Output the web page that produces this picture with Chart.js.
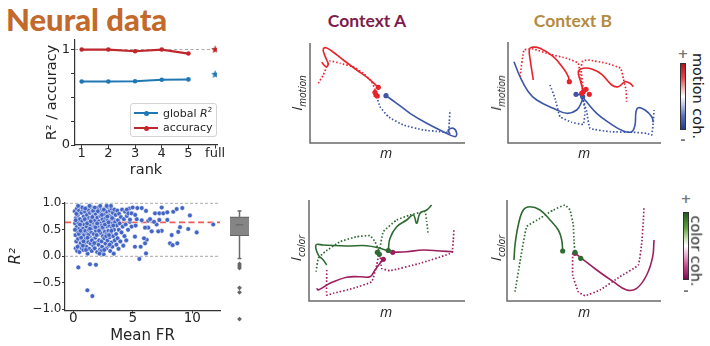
<!DOCTYPE html>
<html>
<head>
<meta charset="utf-8">
<script src="https://cdn.jsdelivr.net/npm/chart.js@4.4.0/dist/chart.umd.min.js"></script>
<style>
html,body{margin:0;padding:0;background:#fff;}
body{width:710px;height:346px;position:relative;overflow:hidden;font-family:"DejaVu Sans",sans-serif;color:#262626;}
canvas{position:absolute;}
.t{position:absolute;white-space:nowrap;line-height:1;}
.ctr{transform:translate(-50%,-50%);}
.rot{transform:translate(-50%,-50%) rotate(-90deg);}
.rot90{transform:translate(-50%,-50%) rotate(90deg);}
.cbar{position:absolute;border:1px solid #333;box-sizing:border-box;}
.lab{font-family:"Open Sans",sans-serif;font-style:italic;color:#222;}
.pm{font:700 13px "DejaVu Sans";color:#777;}
</style>
</head>
<body>
<div class="t" style="left:6px;top:0px;font:900 31px Lato;color:#c2692b;">Neural data</div>
<div class="t ctr" style="left:367px;top:20px;font:700 17.5px Lato;color:#7e1d4e;">Context A</div>
<div class="t ctr" style="left:573px;top:20px;font:700 17.5px Lato;color:#b58b42;">Context B</div>

<canvas id="rank" width="205" height="160" style="left:20px;top:30px"></canvas>
<canvas id="fr" width="225" height="160" style="left:5px;top:190px"></canvas>
<canvas id="box" width="27" height="128" style="left:226px;top:202px"></canvas>
<canvas id="tA"></canvas><canvas id="tB"></canvas><canvas id="bA"></canvas><canvas id="bB"></canvas>

<!-- legend of rank panel -->
<div style="position:absolute;left:130px;top:103px;width:87px;height:34px;border:1px solid #d4d4d4;border-radius:3px;background:rgba(255,255,255,0.9);box-sizing:border-box;"></div>
<div style="position:absolute;left:134px;top:112px;width:24px;height:2px;background:#1f77b4;"></div>
<div style="position:absolute;left:143.5px;top:110.5px;width:5px;height:5px;border-radius:50%;background:#1f77b4;"></div>
<div style="position:absolute;left:134px;top:127px;width:24px;height:2px;background:#c0272d;"></div>
<div style="position:absolute;left:143.5px;top:125.5px;width:5px;height:5px;border-radius:50%;background:#c0272d;"></div>
<div class="t" style="left:163px;top:107px;font-size:11px;">global <i>R</i><sup style="font-size:7px;">2</sup></div>
<div class="t" style="left:163px;top:122px;font-size:11px;">accuracy</div>

<!-- trajectory axis labels -->
<div class="t ctr lab" style="left:386px;top:153px;font-size:14px;">m</div>
<div class="t ctr lab" style="left:584px;top:153px;font-size:14px;">m</div>
<div class="t ctr lab" style="left:386px;top:312px;font-size:14px;">m</div>
<div class="t ctr lab" style="left:584px;top:312px;font-size:14px;">m</div>
<div class="t rot lab" style="left:298px;top:93px;font-size:15px;">I<sub style="font-size:10px;">motion</sub></div>
<div class="t rot lab" style="left:497px;top:93px;font-size:15px;">I<sub style="font-size:10px;">motion</sub></div>
<div class="t rot lab" style="left:297px;top:248px;font-size:15px;">I<sub style="font-size:10px;">color</sub></div>
<div class="t rot lab" style="left:497px;top:248px;font-size:15px;">I<sub style="font-size:10px;">color</sub></div>

<!-- colour bars -->
<div class="cbar" style="left:680px;top:63px;width:6px;height:67px;background:linear-gradient(to bottom,#b5121b 0%,#ea4a4a 22%,#f6c2c2 40%,#ffffff 50%,#c3c9ea 62%,#5a6fbd 80%,#233a8f 100%);"></div>
<div class="t ctr pm" style="left:683px;top:53px;">+</div>
<div class="t ctr pm" style="left:683px;top:139px;">-</div>
<div class="t rot90" style="left:698px;top:96px;font-size:14.5px;color:#222;">motion coh.</div>
<div class="cbar" style="left:683px;top:212px;width:6px;height:68px;background:linear-gradient(to bottom,#1f5a1e 0%,#5c9e3a 22%,#cfe6b8 40%,#ffffff 50%,#f1c4dd 60%,#c64d8d 80%,#7d0a4d 100%);"></div>
<div class="t ctr pm" style="left:686px;top:198px;">+</div>
<div class="t ctr pm" style="left:686px;top:290px;">-</div>
<div class="t rot90" style="left:696px;top:251px;font-size:14.5px;color:#222;">color coh.</div>

<script>
// ---------------- rank panel data ----------------
const rankX = [1, 2, 3, 4, 5];
const rankTickLabels = ['1', '2', '3', '4', '5', 'full'];
const globalR2 = [0.665, 0.665, 0.668, 0.683, 0.687];
const accuracy = [1.0, 1.0, 0.982, 1.0, 0.958];
const fullX = 6;
const globalR2Full = 0.74;
const accuracyFull = 1.0;
const rankYTicks = [0, 0.25, 0.5, 0.75, 1];

// ---------------- R2 vs mean firing rate ----------------
const frTicks = [0, 5, 10];
const r2Ticks = [-1, -0.5, 0, 0.5, 1];
const medianR2 = 0.64;
const meanFR_R2 = [
[0.12,0.85],[0.15,0.62],[0.18,0.40],[0.2,0.15],[0.22,0.72],[0.25,0.28],[0.28,0.55],[0.3,0.90],[0.32,0.10],[0.35,0.47],[0.38,0.78],[0.4,0.33],[0.42,0.63],[0.45,0.20],[0.48,0.86],[0.5,0.52],
[0.52,0.08],[0.55,0.70],[0.58,0.38],[0.6,0.93],[0.62,0.25],[0.65,0.58],[0.68,0.82],[0.7,0.15],[0.72,0.45],[0.75,0.66],[0.78,0.30],[0.8,0.88],[0.82,0.52],[0.85,0.12],[0.88,0.75],[0.9,0.40],[0.92,0.60],[0.95,0.22],[0.98,0.84],[1.0,0.48],
[1.02,0.68],[1.05,0.33],[1.08,0.91],[1.1,0.18],[1.12,0.56],[1.15,0.78],[1.18,0.42],[1.2,0.05],[1.22,0.64],[1.25,0.27],[1.28,0.87],[1.3,0.50],[1.32,0.72],[1.35,0.14],[1.38,0.37],[1.4,0.82],[1.42,0.60],[1.45,0.24],[1.48,0.93],[1.5,0.45],
[1.52,0.70],[1.55,0.10],[1.58,0.53],[1.6,0.85],[1.62,0.32],[1.65,0.63],[1.68,0.20],[1.7,0.77],[1.72,0.42],[1.75,0.90],[1.78,0.57],[1.8,0.15],[1.82,0.68],[1.85,0.35],[1.88,0.80],[1.9,0.48],[1.92,0.26],[1.95,0.88],[1.98,0.60],[2.0,0.08],
[2.02,0.73],[2.05,0.40],[2.08,0.55],[2.1,0.92],[2.12,0.22],[2.15,0.66],[2.18,0.30],[2.2,0.83],[2.22,0.50],[2.25,0.13],[2.28,0.76],[2.3,0.44],[2.32,0.62],[2.35,0.88],[2.38,0.28],[2.4,0.58],[2.42,0.18],[2.45,0.70],[2.48,0.38],[2.5,0.86],
[2.52,0.52],[2.55,0.04],[2.58,0.65],[2.6,0.34],[2.62,0.79],[2.65,0.46],[2.68,0.90],[2.7,0.24],[2.72,0.60],[2.75,0.72],[2.78,0.15],[2.8,0.42],[2.82,0.84],[2.85,0.56],[2.88,0.30],[2.9,0.68],[2.92,0.93],[2.95,0.48],[2.98,0.20],[3.0,0.77],
[3.02,0.58],[3.05,0.36],[3.08,0.86],[3.1,0.10],[3.12,0.66],[3.15,0.44],[3.18,0.74],[3.2,0.26],[3.22,0.90],[3.25,0.54],[3.28,0.18],[3.3,0.62],[3.32,0.82],[3.35,0.38],[3.38,0.70],[3.4,0.05],[3.42,0.50],[3.45,0.88],[3.48,0.30],[3.5,0.64],
[3.55,0.78],[3.6,0.42],[3.62,0.22],[3.65,0.58],[3.7,0.86],[3.72,0.34],[3.75,0.68],[3.8,0.14],[3.82,0.50],[3.85,0.80],[3.9,0.62],[3.95,0.28],[4.0,0.74],
[4.05,0.45],[4.1,0.88],[4.15,0.56],[4.2,0.20],[4.25,0.70],[4.3,0.38],[4.35,0.84],[4.4,0.60],[4.45,0.30],[4.5,0.76],[4.6,0.50],[4.7,0.90],[4.75,0.65],[4.5,0.88],[4.63,0.81],[4.76,0.69],
[0.14,0.50],[0.26,0.80],[0.36,0.18],[0.46,0.42],[0.56,0.60],[0.66,0.35],[0.76,0.92],[0.86,0.28],[0.96,0.70],[1.06,0.12],[1.16,0.62],[1.26,0.40],[1.36,0.95],[1.46,0.66],[1.56,0.30],[1.66,0.86],[1.76,0.25],[1.86,0.55],[1.96,0.40],[2.06,0.85],[2.16,0.48],[2.26,0.95],[2.36,0.10],[2.46,0.55],[2.56,0.88],[2.66,0.60],[2.76,0.38],[2.86,0.75],[2.96,0.64],[3.06,0.22],[3.16,0.95],[3.26,0.72],[3.36,0.58],
[0.2,0.68],[0.4,0.95],[0.6,0.48],[0.8,0.20],[1.0,0.90],[1.2,0.35],[1.4,0.52],[1.6,0.74],[1.8,0.92],[2.0,0.62],[2.2,0.05],[2.4,0.78],[2.6,0.12],[2.8,0.95],[3.0,0.40],[3.2,0.48],
[4.99,0.92],[5.38,0.91],[5.75,0.91],[6.11,0.855],[6.87,0.81],[7.23,0.81],[7.56,0.81],[7.43,0.92],[7.9,0.83],[8.4,0.84],[8.69,0.89],[9.16,0.91],[9.8,0.77],[11.76,0.6],[10.37,0.45],[9.66,0.515],[8.97,0.55],[8.82,0.46],[8.27,0.40],[8.13,0.245],[8.35,0.21],[8.74,0.245],[7.9,0.685],[7.23,0.685],[7.0,0.6],[6.78,0.65],[7.43,0.48],[7.14,0.47],[6.59,0.47],[6.3,0.54],[6.03,0.54],[6.17,0.31],[5.94,0.34],[6.03,0.245],[5.18,0.37],[5.18,0.18],[5.66,0.18],[6.11,0.055],[5.55,-0.05],[6.3,0.67],[6.45,0.7],[5.33,0.7],[5.75,0.68],[4.9,0.81],[5.2,0.78],[4.9,0.56],[5.24,0.58],
[0.42,-0.21],[1.4,-0.15],[1.9,-0.16],[1.18,-0.64],[1.6,-0.75]
];
const boxQuartiles = [0.42, 0.64, 0.80];
const boxWhiskers = [-0.04, 0.92];
const boxOutliers = [-0.15, -0.19, -0.23, -0.63, -0.72, -1.26];

// ---------------- trajectories (m, I) ----------------
const motionA_posSolid = [[11.7,80.7],[16,76.3],[18.3,78.7],[16.7,83],[14,89.7],[13.3,94],[16,95.3],[21.7,92],[33.3,83],[46.7,73],[58.3,64.7],[68.3,55.7]];
const motionA_posDotted = [[8.3,59.7],[13.3,68],[16.7,76.3],[20,82],[30,79.7],[43.3,76.3],[53.3,69.7],[61.7,61.3],[66,51.3],[66.7,46.3]];
const motionA_negSolid = [[76,47.3],[86.7,39.7],[100,29.7],[116.7,19.7],[133.3,11.3],[145,6.3],[146.7,9.7],[143.3,14.7],[138.3,13],[140,8.7]];
const motionA_negDotted = [[66.7,46.3],[70,36.3],[78.3,26.3],[93.3,18],[113.3,13],[130,11.3],[138.3,10.7],[139.3,21.3],[140,33]];
const motionA_posEnds = [[68.3,55.7],[65,50.7],[66,48],[67.3,47]];
const motionA_negEnds = [[76,47.3]];
const motionB_posSolid1 = [[25.3,63],[22,84.7],[21.3,93],[23.7,95.7],[32,94.7],[45.3,86.3],[55.3,74.7],[60.3,66.3],[61.3,61.3]];
const motionB_posSolid2 = [[75.3,51.3],[72.7,61.3],[70.3,71.3],[75.3,74.7],[83.7,74],[93.7,68.7],[103.7,58],[110.3,56.3],[117,61.3],[122,59.7],[125.3,56.3]];
const motionB_posDotted1 = [[12,66.3],[16,93],[25.3,94],[42,88.7],[58.7,84.7],[70.3,79.7],[72,68],[74.7,53]];
const motionB_posDotted2 = [[75.3,53],[73,74.7],[74.7,82],[80.3,83],[98.7,79.7],[112.7,74.7],[115.3,64.7],[118,53],[118.7,41.3]];
const motionB_negSolid1 = [[6,81.3],[12,66.3],[20.3,51.3],[28.7,43],[45.3,34.7],[58.7,29.7],[68.7,33],[73.7,41.3],[74.7,46.3]];
const motionB_negSolid2 = [[75.3,45],[77,43],[88.7,29.7],[102,19.7],[115.3,12],[123.7,11.3],[127,18],[128,31.3],[130.3,35.3],[137,33],[143.7,26.3],[145.3,20.7]];
const motionB_negSolid3 = [[68,48.7],[74.7,47.7]];
const motionB_negDotted1 = [[42,58],[47,44.7],[52,26.3],[63.7,20.7],[75.3,18.7],[77,31.3],[75.3,43]];
const motionB_negDotted2 = [[75.3,43],[78.7,31.3],[82,14.7],[102,11.3],[125.3,10.7],[138.7,9.7],[143.7,8],[145.3,21.3],[146,33]];
const motionB_posEnds = [[61.3,61.3],[75.3,51.3],[78,53.7],[81.3,48.7],[73.7,49.7]];
const motionB_negEnds = [[68,48.7],[74.7,46.3]];
const colorA_posSolid1 = [[17.7,36],[14.3,41],[9.3,46],[7,56],[14.3,56],[37.7,55],[57.7,55.3],[71,52.7],[79.3,50]];
const colorA_posSolid2 = [[79.3,51],[81,62.7],[87.7,74.3],[97.7,81],[104.3,86],[107.7,77.7],[111,87.7],[117.7,91],[122.7,96]];
const colorA_posDotted1 = [[7,29.3],[9.3,42.7],[16,49.3],[31,59.3],[47.7,64.3],[61,65.3],[66,59.3],[70.3,49.3]];
const colorA_posDotted2 = [[70.3,49.3],[74.3,69.3],[87.7,81],[101,86],[116,89.3],[117.7,79.3],[119.3,66]];
const colorA_negSolid1 = [[7.7,12.7],[9.3,11],[21,17.7],[37.7,23.7],[51,24.3],[61,24.3],[66,31],[71,37.7],[74.3,41.7]];
const colorA_negSolid2 = [[83.7,48.7],[97.7,49.3],[114.3,51],[131,50],[144.3,49.3]];
const colorA_negDotted1 = [[17.7,31],[17.7,21],[17.7,6],[24.3,7.7],[44.3,12.7],[62.7,19.3],[67.7,36],[70.3,49.3]];
const colorA_negDotted2 = [[71,47],[72.7,32.7],[81,30.3],[111,37.7],[142.7,48.3],[144.3,61],[145,72.7]];
const colorA_posEnds = [[79.3,50.5],[68.3,48.7],[70.3,46.7]];
const colorA_negEnds = [[83.7,48.7],[74.3,41.7]];
const colorB_posSolid = [[7,41],[8,56],[11.3,76],[16.3,91],[23,94.3],[33,91],[43,81],[51.3,71],[54.7,61],[55.7,50]];
const colorB_posDotted = [[8,9.3],[13,39.3],[19.7,74.3],[33,82.7],[46.3,91],[58,96],[63,91],[66.3,76],[67,59.3],[68,48.7]];
const colorB_negSolid = [[67,48.7],[74.7,42.7],[89.7,31],[106.3,19.3],[119.7,11],[129.7,12.7],[139.7,26],[145.7,44.3],[147,61]];
const colorB_negDotted = [[65.7,47.7],[65.7,26],[71.3,9.3],[78,5.3],[93,11],[113,24.3],[131.3,36],[134.7,57.7],[136.3,79.3],[137,94.3]];
const colorB_posEnds = [[55.7,50],[68,48.7],[73.7,42.7]];
const colorB_negEnds = [[68,47.7]];

// ---------------- styling ----------------
const C_BLUE = '#1f77b4', C_RED = '#c0272d';
const T_RED = '#e8222b', T_BLUE = '#3d56a6', T_GREEN = '#2e6b32', T_MAG = '#9c1f5f';
Chart.defaults.font.family = 'DejaVu Sans';
Chart.defaults.color = '#262626';

function starCanvas(color, r) {
  const c = document.createElement('canvas');
  const s = Math.ceil(r * 2 + 2);
  c.width = s; c.height = s;
  const g = c.getContext('2d');
  g.fillStyle = color; g.beginPath();
  for (let i = 0; i < 10; i++) {
    const a = -Math.PI / 2 + i * Math.PI / 5;
    const rr = i % 2 ? r * 0.45 : r;
    g.lineTo(s / 2 + rr * Math.cos(a), s / 2 + rr * Math.sin(a));
  }
  g.closePath(); g.fill();
  return c;
}
const xy = arr => arr.map(p => ({x: p[0], y: p[1]}));
const noPlug = {legend: {display: false}, tooltip: {enabled: false}};

// ---------------- rank chart ----------------
new Chart(document.getElementById('rank'), {
  type: 'scatter',
  data: {datasets: [
    {data: [{x: fullX, y: globalR2Full}], pointStyle: starCanvas(C_BLUE, 4.2), pointRadius: 4},
    {data: [{x: fullX, y: accuracyFull}], pointStyle: starCanvas(C_RED, 4.2), pointRadius: 4},
    {data: rankX.map((x, i) => ({x, y: globalR2[i]})), showLine: true, borderColor: C_BLUE, backgroundColor: C_BLUE, borderWidth: 2, pointRadius: 2.3, pointBorderWidth: 0},
    {data: rankX.map((x, i) => ({x, y: accuracy[i]})), showLine: true, borderColor: C_RED, backgroundColor: C_RED, borderWidth: 2.2, pointRadius: 2.3, pointBorderWidth: 0},
    {data: [{x: 0.75, y: 1}, {x: 6.07, y: 1}], showLine: true, borderColor: '#a8a8a8', borderWidth: 1, borderDash: [3, 2.5], pointRadius: 0}
  ]},
  options: {
    animation: false, responsive: false,
    layout: {padding: {top: 10, right: 8, left: 0, bottom: 0}},
    plugins: noPlug,
    scales: {
      x: {type: 'linear', min: 0.75, max: 6.07,
        afterBuildTicks: s => { s.ticks = [1, 2, 3, 4, 5, 6].map(v => ({value: v})); },
        afterFit: s => { s.height = 45; },
        ticks: {callback: v => rankTickLabels[Math.round(v) - 1], font: {size: 13, lineHeight: 1}, padding: -1.5, maxRotation: 0, autoSkip: false},
        grid: {display: true, drawOnChartArea: false, drawTicks: true, tickLength: 3.5, color: '#333'},
        border: {display: true, color: '#333', width: 1.2},
        title: {display: true, text: 'rank', font: {size: 14.5}, padding: {top: 0, bottom: 11.3}}},
      y: {type: 'linear', min: 0, max: 1.1,
        afterBuildTicks: s => { s.ticks = rankYTicks.map(v => ({value: v})); },
        afterFit: s => { s.width = 55; },
        ticks: {callback: v => (v === 0 || v === 1) ? String(v) : '', font: {size: 13, lineHeight: 1}, padding: 1},
        grid: {display: true, drawOnChartArea: false, drawTicks: true, tickLength: 4, color: '#333'},
        border: {display: true, color: '#333', width: 1.2},
        title: {display: true, text: 'R² / accuracy', font: {size: 14.5}, padding: {top: 23.6, bottom: 0}}}
    }
  }
});

// ---------------- R2 vs mean FR scatter ----------------
new Chart(document.getElementById('fr'), {
  type: 'scatter',
  data: {datasets: [
    {data: xy(meanFR_R2), pointRadius: 2.35, pointBackgroundColor: '#4264c4', pointBorderColor: '#ffffff', pointBorderWidth: 0.5},
    {data: [{x: -0.7, y: medianR2}, {x: 12.33, y: medianR2}], showLine: true, borderColor: 'rgba(232,64,58,0.85)', borderWidth: 1.8, borderDash: [6, 3.5], pointRadius: 0},
    {data: [{x: -0.7, y: 1}, {x: 12.33, y: 1}], showLine: true, borderColor: '#a8a8a8', borderWidth: 1, borderDash: [3, 2], pointRadius: 0},
    {data: [{x: -0.7, y: 0}, {x: 12.33, y: 0}], showLine: true, borderColor: '#b8b8b8', borderWidth: 1.2, borderDash: [3, 2], pointRadius: 0}
  ]},
  options: {
    animation: false, responsive: false,
    layout: {padding: {top: 12.2, right: 10, left: 0, bottom: 0}},
    plugins: noPlug,
    scales: {
      x: {type: 'linear', min: -0.7, max: 12.33,
        afterBuildTicks: s => { s.ticks = frTicks.map(v => ({value: v})); },
        afterFit: s => { s.height = 39.6; },
        ticks: {callback: v => String(v), font: {size: 13.5, lineHeight: 1}, padding: -1.3, maxRotation: 0, autoSkip: false},
        grid: {display: true, drawOnChartArea: false, drawTicks: true, tickLength: 3, color: '#333'},
        border: {display: true, color: '#333', width: 1.2},
        title: {display: true, text: 'Mean FR', font: {size: 15}, padding: {top: 0, bottom: 5}}},
      y: {type: 'linear', min: -1.02, max: 1.02,
        afterBuildTicks: s => { s.ticks = r2Ticks.map(v => ({value: v})); },
        afterFit: s => { s.width = 60; },
        ticks: {callback: v => (v < 0 ? '\u2212' : '') + Math.abs(v).toFixed(1), font: {size: 12, lineHeight: 1}, padding: 0.5},
        grid: {display: true, drawOnChartArea: false, drawTicks: true, tickLength: 3, color: '#333'},
        border: {display: true, color: '#333', width: 1.2},
        title: {display: true, text: 'R²', font: {size: 15, style: 'italic'}, padding: {top: 2.5, bottom: 0}}}
    }
  }
});

// ---------------- box plot of R2 ----------------
const seg = (x0, y0, x1, y1, w) => ({type: 'line', data: [{x: x0, y: y0}, {x: x1, y: y1}], borderColor: '#6a6a6a', borderWidth: w, pointRadius: 0, fill: false});
new Chart(document.getElementById('box'), {
  type: 'bar',
  data: {datasets: [
    seg(0.1, boxQuartiles[1], 0.9, boxQuartiles[1], 1.4),
    {type: 'scatter', data: boxOutliers.map(y => ({x: 0.5, y})), pointStyle: 'rectRot', pointRadius: 2.4, pointBackgroundColor: '#666', pointBorderWidth: 0},
    seg(0.296, boxWhiskers[1], 0.704, boxWhiskers[1], 1.5),
    seg(0.296, boxWhiskers[0], 0.704, boxWhiskers[0], 1.5),
    {type: 'bar', data: [{x: 0.5, y: [boxQuartiles[0], boxQuartiles[2]]}], backgroundColor: '#858585', borderColor: '#646464', borderWidth: 1.2, borderSkipped: false, barThickness: 21.7},
    seg(0.5, boxQuartiles[2], 0.5, boxWhiskers[1], 1.5),
    seg(0.5, boxQuartiles[0], 0.5, boxWhiskers[0], 1.5)
  ]},
  options: {
    animation: false, responsive: false, layout: {padding: 0}, plugins: noPlug,
    scales: {x: {type: 'linear', min: 0, max: 1, display: false}, y: {min: -1.4, max: 1.02, display: false}}
  }
});

// ---------------- trajectory panels ----------------
const spines = {id: 'spines', beforeDatasetsDraw(chart) {
  const {ctx, chartArea: a} = chart;
  ctx.save(); ctx.strokeStyle = '#6a6a6a'; ctx.lineWidth = 1.5;
  ctx.beginPath(); ctx.moveTo(a.left, a.top); ctx.lineTo(a.left, a.bottom); ctx.lineTo(a.right, a.bottom); ctx.stroke();
  ctx.restore();
}};
function traj(id, rect, lines, marks) {
  const cv = document.getElementById(id), m = 5;
  cv.width = rect[2] + 2 * m; cv.height = rect[3] + 2 * m;
  cv.style.left = (rect[0] - m) + 'px'; cv.style.top = (rect[1] - m) + 'px';
  const datasets = [];
  marks.forEach(mk => datasets.push({data: xy(mk[0]), pointRadius: 2.6, pointBackgroundColor: mk[1], pointBorderWidth: 0}));
  lines.forEach(l => datasets.push({data: xy(l[0]), showLine: true, borderColor: l[1], borderWidth: l[2] ? 1.7 : 1.6,
    borderDash: l[2] ? [1.5, 2] : [], tension: l[2] ? 0.1 : 0.4, pointRadius: 0}));
  new Chart(cv, {type: 'scatter', data: {datasets},
    options: {animation: false, responsive: false, layout: {padding: m}, plugins: noPlug,
      scales: {x: {type: 'linear', min: 0, max: rect[2], display: false}, y: {type: 'linear', min: 0, max: rect[3], display: false}}},
    plugins: [spines]});
}
traj('tA', [310, 43, 155, 100], [
  [motionA_posSolid, T_RED, false], [motionA_posDotted, T_RED, true],
  [motionA_negSolid, T_BLUE, false], [motionA_negDotted, T_BLUE, true]
], [[motionA_posEnds, T_RED], [motionA_negEnds, T_BLUE]]);
traj('tB', [508, 42, 153, 101], [
  [motionB_posSolid1, T_RED, false], [motionB_posSolid2, T_RED, false],
  [motionB_posDotted1, T_RED, true], [motionB_posDotted2, T_RED, true],
  [motionB_negSolid1, T_BLUE, false], [motionB_negSolid2, T_BLUE, false], [motionB_negSolid3, T_BLUE, false],
  [motionB_negDotted1, T_BLUE, true], [motionB_negDotted2, T_BLUE, true]
], [[motionB_posEnds, T_RED], [motionB_negEnds, T_BLUE]]);
traj('bA', [309, 200, 156, 101], [
  [colorA_posSolid1, T_GREEN, false], [colorA_posSolid2, T_GREEN, false],
  [colorA_posDotted1, T_GREEN, true], [colorA_posDotted2, T_GREEN, true],
  [colorA_negSolid1, T_MAG, false], [colorA_negSolid2, T_MAG, false],
  [colorA_negDotted1, T_MAG, true], [colorA_negDotted2, T_MAG, true]
], [[colorA_posEnds, T_GREEN], [colorA_negEnds, T_MAG]]);
traj('bB', [507, 200, 154, 101], [
  [colorB_posSolid, T_GREEN, false], [colorB_posDotted, T_GREEN, true],
  [colorB_negSolid, T_MAG, false], [colorB_negDotted, T_MAG, true]
], [[colorB_posEnds, T_GREEN], [colorB_negEnds, T_MAG]]);
</script>
</body>
</html>
